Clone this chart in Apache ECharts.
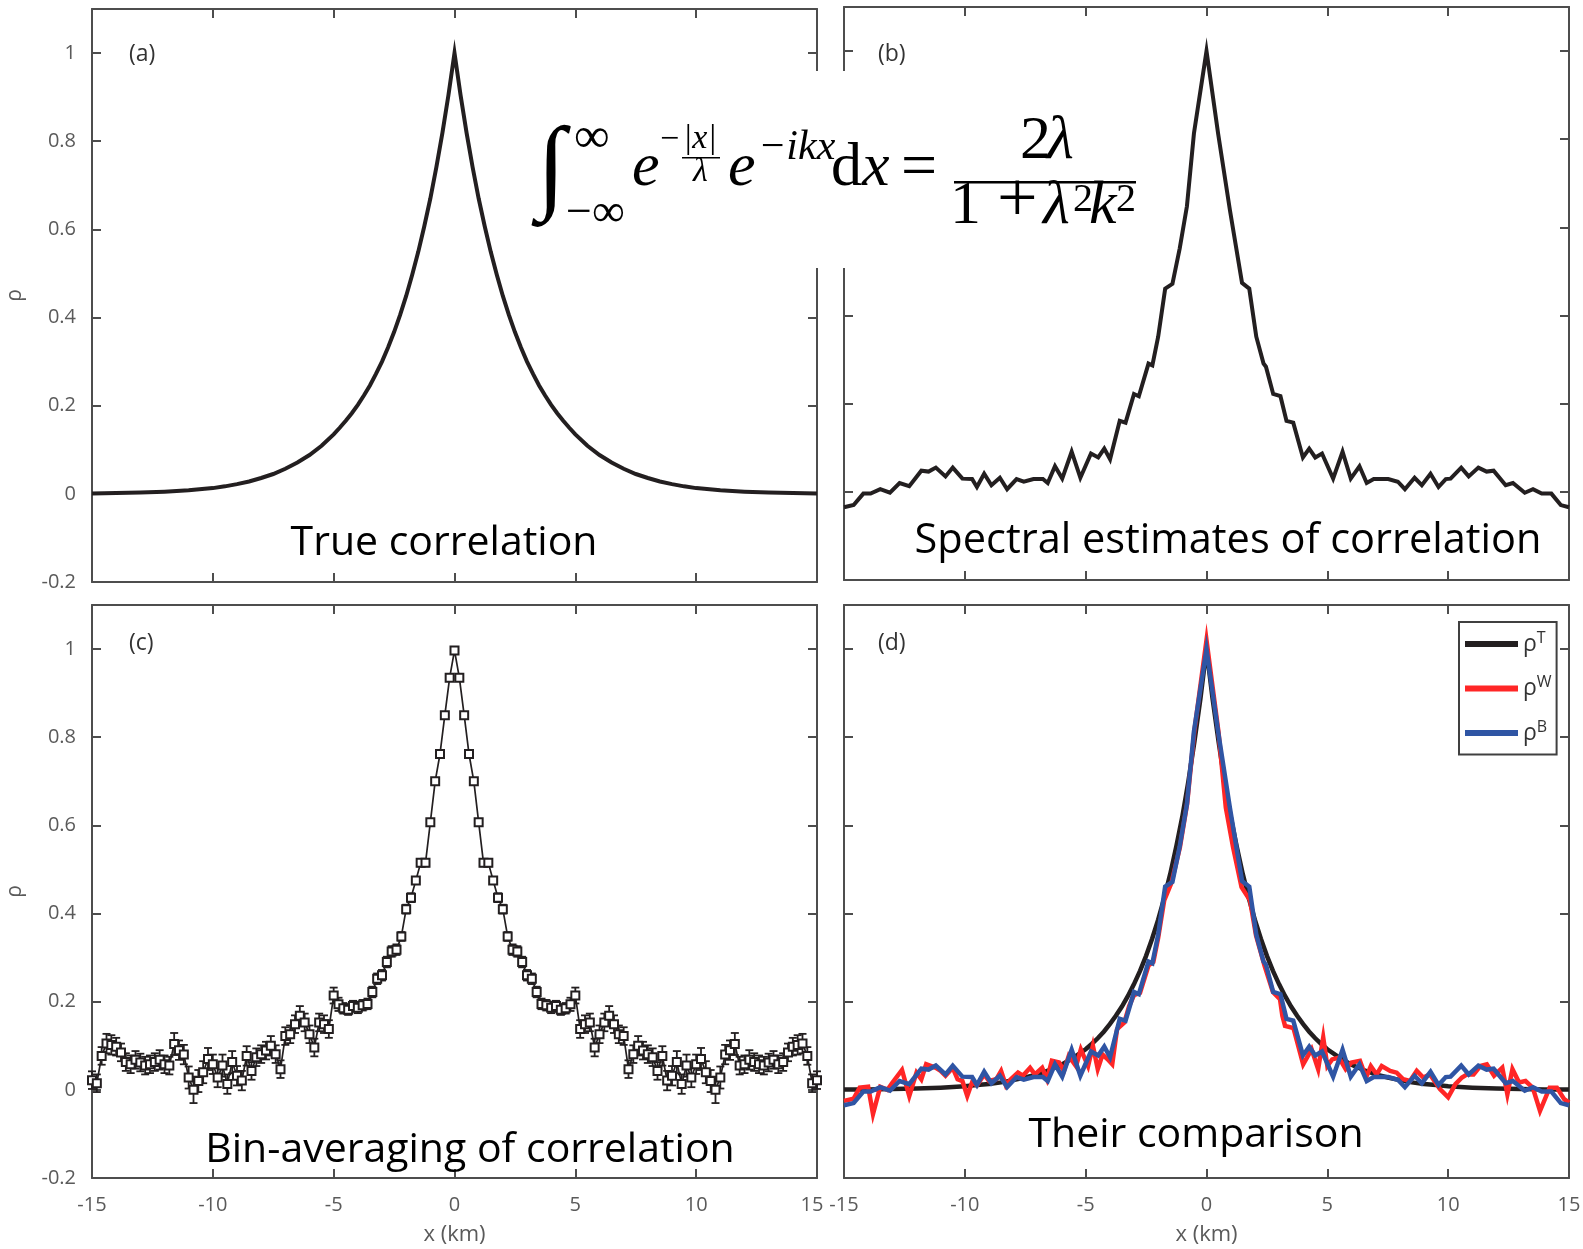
<!DOCTYPE html>
<html><head><meta charset="utf-8">
<script src="https://cdn.jsdelivr.net/npm/echarts@6.0.0/dist/echarts.min.js"></script>
<style>html,body{margin:0;padding:0;background:#fff}#c{width:1583px;height:1249px}</style>
</head><body><div id="c"></div><script>
// ---------- data ----------
// panel (a): true correlation
const trueX = [-15,-14,-13,-12,-11,-10,-9.5,-9,-8.5,-8,-7.5,-7,-6.5,-6,-5.5,-5,-4.75,-4.5,-4.25,-4,-3.75,-3.5,-3.25,-3,-2.75,-2.5,-2.25,-2,-1.75,-1.5,-1.25,-1,-0.75,-0.5,-0.25,0,
  0.25,0.5,0.75,1,1.25,1.5,1.75,2,2.25,2.5,2.75,3,3.25,3.5,3.75,4,4.25,4.5,4.75,5,5.5,6,6.5,7,7.5,8,8.5,9,9.5,10,11,12,13,14,15];
const trueRho = [0.001,0.002,0.003,0.005,0.008,0.013,0.017,0.022,0.028,0.036,0.045,0.057,0.071,0.088,0.109,0.135,0.15,0.166,0.183,0.202,0.223,0.246,0.272,0.3,0.332,0.367,0.406,0.449,0.497,0.549,0.607,0.67,0.741,0.819,0.905,1.0,
  0.905,0.819,0.741,0.67,0.607,0.549,0.497,0.449,0.406,0.367,0.332,0.3,0.272,0.246,0.223,0.202,0.183,0.166,0.15,0.135,0.109,0.088,0.071,0.057,0.045,0.036,0.028,0.022,0.017,0.013,0.008,0.005,0.003,0.002,0.001];
// panel (d): true correlation curve as drawn there (same x positions as trueX)
const trueRhoD = [0.001,0.001,0.002,0.003,0.005,0.008,0.011,0.013,0.017,0.022,0.028,0.035,0.045,0.057,0.073,0.092,0.104,0.117,0.132,0.149,0.168,0.189,0.213,0.24,0.27,0.304,0.343,0.386,0.435,0.49,0.552,0.62,0.70,0.79,0.888,1.0,
  0.888,0.79,0.70,0.62,0.552,0.49,0.435,0.386,0.343,0.304,0.27,0.24,0.213,0.189,0.168,0.149,0.132,0.117,0.104,0.092,0.073,0.057,0.045,0.035,0.028,0.022,0.017,0.013,0.011,0.008,0.005,0.003,0.002,0.001,0.001];

// panel (b) and blue curve of (d): spectral estimate
const specX = [-15,-14.6,-14.2,-13.9,-13.5,-13.1,-12.7,-12.3,-11.8,-11.5,-11.2,-10.8,-10.5,-10.1,-9.7,-9.5,-9.2,-8.9,-8.55,-8.25,-7.86,-7.56,-7.16,-6.77,-6.57,-6.27,-5.97,-5.58,-5.22,-4.78,-4.48,-4.23,-3.99,-3.59,-3.35,-3.0,-2.8,-2.4,-2.24,-2.0,-1.71,-1.41,-1.11,-0.81,-0.52,0,0.48,0.97,1.47,1.77,2.06,2.36,2.46,2.76,3.06,3.31,3.59,3.99,4.25,4.5,4.78,5.24,5.63,5.97,6.33,6.63,6.92,7.52,7.92,8.21,8.61,8.91,9.27,9.6,9.9,10.1,10.54,10.85,11.25,11.59,11.88,12.38,12.68,13.17,13.51,13.87,14.27,14.66,15];
const specRho = [-0.035,-0.03,-0.004,-0.004,0.006,-0.002,0.02,0.013,0.048,0.046,0.055,0.035,0.055,0.03,0.029,0.011,0.041,0.015,0.032,0.006,0.029,0.023,0.029,0.029,0.02,0.058,0.03,0.091,0.032,0.087,0.078,0.098,0.074,0.161,0.157,0.222,0.217,0.291,0.287,0.352,0.461,0.472,0.552,0.648,0.813,1.0,0.813,0.639,0.474,0.461,0.352,0.291,0.284,0.222,0.217,0.161,0.157,0.078,0.098,0.078,0.087,0.03,0.091,0.03,0.058,0.02,0.029,0.029,0.023,0.006,0.032,0.015,0.041,0.011,0.029,0.03,0.055,0.035,0.055,0.046,0.048,0.015,0.02,-0.002,0.006,-0.004,-0.004,-0.03,-0.035];

// panel (c): bin-averaged estimate, bin centres every 0.2 km from -15 to 15
const binRho = [0.022,0.015,0.077,0.105,0.102,0.098,0.085,0.063,0.058,0.068,
 0.062,0.055,0.058,0.063,0.068,0.058,0.055,0.104,0.09,0.08,
 0.028,0.0,0.02,0.04,0.07,0.058,0.028,0.055,0.013,0.063,
 0.032,0.021,0.077,0.043,0.074,0.081,0.089,0.1,0.081,0.047,
 0.122,0.126,0.149,0.168,0.153,0.126,0.096,0.153,0.149,0.138,
 0.214,0.194,0.185,0.182,0.19,0.186,0.192,0.195,0.222,0.252,
 0.26,0.29,0.314,0.318,0.348,0.41,0.436,0.475,0.515,0.515,
 0.607,0.70,0.762,0.85,0.935,
 0.997,
 0.935,0.85,0.762,0.70,0.607,
 0.515,0.515,0.475,0.436,0.41,0.348,0.318,0.314,0.29,0.26,
 0.252,0.222,0.195,0.192,0.186,0.19,0.182,0.185,0.194,0.214,
 0.138,0.149,0.153,0.096,0.126,0.153,0.168,0.149,0.126,0.122,
 0.047,0.081,0.1,0.089,0.081,0.074,0.043,0.077,0.021,0.032,
 0.063,0.013,0.055,0.028,0.058,0.07,0.04,0.02,0.0,0.028,
 0.08,0.09,0.104,0.055,0.058,0.068,0.063,0.058,0.055,0.062,
 0.068,0.058,0.063,0.085,0.098,0.102,0.105,0.077,0.015,0.022];
const binErr = [0.02,0.02,0.02,0.022,0.022,0.02,0.02,0.02,0.02,0.02,
 0.02,0.02,0.02,0.02,0.022,0.02,0.02,0.025,0.022,0.022,
 0.025,0.03,0.025,0.025,0.025,0.022,0.022,0.025,0.022,0.025,
 0.022,0.022,0.022,0.02,0.02,0.02,0.02,0.022,0.02,0.02,
 0.02,0.02,0.02,0.022,0.02,0.02,0.02,0.02,0.02,0.02,
 0.018,0.015,0.012,0.012,0.012,0.012,0.012,0.012,0.012,0.012,
 0.012,0.012,0.012,0.012,0.01,0.01,0.01,0.008,0.008,0.008,
 0.006,0.006,0.006,0.006,0.006,
 0.005,
 0.006,0.006,0.006,0.006,0.006,
 0.008,0.008,0.008,0.01,0.01,0.01,0.012,0.012,0.012,0.012,
 0.012,0.012,0.012,0.012,0.012,0.012,0.012,0.012,0.015,0.018,
 0.02,0.02,0.02,0.02,0.02,0.02,0.022,0.02,0.02,0.02,
 0.02,0.02,0.022,0.02,0.02,0.02,0.02,0.022,0.022,0.022,
 0.025,0.022,0.025,0.022,0.022,0.025,0.025,0.025,0.03,0.025,
 0.022,0.022,0.025,0.02,0.02,0.022,0.02,0.02,0.02,0.02,
 0.02,0.02,0.02,0.02,0.02,0.022,0.022,0.02,0.02,0.02];
const binX = Array.from({length: binRho.length}, (_, i) => Math.round((-15 + 0.2 * i) * 10) / 10);

// weighted estimate (red, panel d): [x, rho]
const rhoW = [[-15.0,-0.025],[-14.6,-0.02],[-14.35,0.005],[-14.0,0.007],[-13.8,-0.055],[-13.5,0.007],[-13.2,0.0],[-13.0,0.016],[-12.6,0.045],[-12.3,-0.014],[-12.0,0.039],[-11.8,0.024],[-11.6,0.058],[-11.2,0.05],[-11.0,0.043],[-10.8,0.032],[-10.5,0.05],[-10.3,0.024],[-10.1,0.02],[-9.9,-0.014],[-9.7,0.017],[-9.5,0.01],[-9.2,0.035],[-9.0,0.02],[-8.7,0.024],[-8.5,0.043],[-8.3,0.01],[-8.1,0.024],[-7.8,0.039],[-7.6,0.032],[-7.3,0.05],[-7.1,0.035],[-6.8,0.05],[-6.6,0.024],[-6.4,0.066],[-6.1,0.062],[-5.9,0.043],[-5.7,0.077],[-5.4,0.054],[-5.2,0.092],[-4.9,0.054],[-4.7,0.1],[-4.5,0.047],[-4.3,0.08],[-4.1,0.07],[-3.9,0.058],[-3.7,0.138],[-3.4,0.153],[-3.2,0.19],[-3.0,0.215],[-2.75,0.22],[-2.4,0.282],[-2.2,0.29],[-2.0,0.345],[-1.75,0.43],[-1.45,0.47],[-1.1,0.55],[-0.8,0.65],[-0.5,0.815],[0,1.02],[0.5,0.81],[0.8,0.64],[1.1,0.55],[1.45,0.46],[1.8,0.43],[2.05,0.35],[2.4,0.282],[2.75,0.222],[3.04,0.206],[3.14,0.168],[3.25,0.145],[3.6,0.14],[4.0,0.058],[4.35,0.092],[4.62,0.047],[4.83,0.119],[5.0,0.054],[5.2,0.069],[5.48,0.073],[5.76,0.047],[6.0,0.062],[6.35,0.066],[6.6,0.028],[6.8,0.054],[7.04,0.035],[7.25,0.054],[7.6,0.043],[7.87,0.039],[8.14,0.024],[8.42,0.02],[8.7,0.043],[8.97,0.028],[9.25,0.035],[9.66,0.002],[10.0,-0.017],[10.3,0.013],[10.57,0.028],[10.78,0.035],[11.05,0.035],[11.33,0.054],[11.6,0.058],[11.9,0.032],[12.24,0.05],[12.45,-0.01],[12.66,0.047],[12.93,0.017],[13.2,0.02],[13.5,0.005],[13.8,-0.048],[14.2,0.005],[14.5,0.005],[14.8,-0.021],[15.0,-0.029]];

const panelLetters = ['(a)', '(b)', '(c)', '(d)'];
const panelTitles = ['True correlation', 'Spectral estimates of correlation', 'Bin-averaging of correlation', 'Their comparison'];
const legendNames = ['ρT', 'ρW', 'ρB'];
const legendSup = {'ρT': 'T', 'ρW': 'W', 'ρB': 'B'};

// ---------- styling / layout ----------
const AX = '#4d4d4d', INK = '#231f20', LBL = '#5a5a5a';
const SANS = '"Open Sans", "Noto Sans", sans-serif';
const SERIF = '"Liberation Serif", "DejaVu Serif", serif';
const grids = [
  {left: 92, top: 9, width: 725, height: 573},
  {left: 844, top: 7, width: 725, height: 573},
  {left: 92, top: 605, width: 725, height: 573},
  {left: 844, top: 605, width: 725, height: 573}
].map(g => Object.assign({outerBoundsMode: 'none', containLabel: false}, g));

function common() {
  return {
    axisLine: {show: true, onZero: false, lineStyle: {color: AX, width: 2}},
    axisTick: {show: true, inside: true, length: 9, lineStyle: {color: AX, width: 2}},
    splitLine: {show: false}, minorTick: {show: false}
  };
}
const labelBase = {fontSize: 20, color: LBL, fontFamily: SANS};
const xAxes = [], yAxes = [];
for (let g = 0; g < 4; g++) {
  const bottomRow = g >= 2, leftCol = g % 2 === 0;
  xAxes.push(Object.assign(common(), {type: 'value', gridIndex: g, position: 'bottom', min: -15, max: 15, interval: 5,
    axisLabel: Object.assign({show: bottomRow, margin: 17,
      formatter: v => (g === 2 && v === 15) ? '{e|15}' : String(v),
      rich: {e: Object.assign({padding: [0, 10, 0, 0]}, labelBase)}}, labelBase),
    name: bottomRow ? 'x (km)' : '', nameLocation: 'middle', nameGap: 46,
    nameTextStyle: {fontSize: 22, color: LBL, fontFamily: SANS}}));
  xAxes.push(Object.assign(common(), {type: 'value', gridIndex: g, position: 'top', min: -15, max: 15, interval: 5, axisLabel: {show: false}}));
  yAxes.push(Object.assign(common(), {type: 'value', gridIndex: g, position: 'left', min: -0.2, max: 1.1, interval: 0.2,
    axisLabel: {show: leftCol, margin: 16, fontSize: 20, color: LBL, fontFamily: SANS, showMaxLabel: false},
    name: leftCol ? 'ρ' : '', nameLocation: 'middle', nameGap: 66, nameRotate: 90,
    nameTextStyle: {fontSize: 21, color: LBL, fontFamily: SANS}}));
  yAxes.push(Object.assign(common(), {type: 'value', gridIndex: g, position: 'right', min: -0.2, max: 1.1, interval: 0.2, axisLabel: {show: false}}));
}

const zip = (xs, ys) => xs.map((x, i) => [x, ys[i]]);
const lineBase = {type: 'line', showSymbol: false, symbol: 'none', silent: true, animation: false, clip: true};

const series = [
  Object.assign({}, lineBase, {xAxisIndex: 0, yAxisIndex: 0, data: zip(trueX, trueRho),
    lineStyle: {color: INK, width: 4, join: 'miter', miterLimit: 30}}),
  Object.assign({}, lineBase, {xAxisIndex: 2, yAxisIndex: 2, data: zip(specX, specRho),
    lineStyle: {color: INK, width: 4, join: 'miter', miterLimit: 30}}),
  {type: 'custom', xAxisIndex: 4, yAxisIndex: 4, silent: true, animation: false, z: 2,
    data: binX.map((x, i) => [x, binRho[i], binErr[i]]), encode: {x: 0, y: 1},
    renderItem: (params, api) => {
      const x = api.value(0), y = api.value(1), e = api.value(2);
      const t = api.coord([x, y + e]), b = api.coord([x, y - e]);
      const hw = 4, st = {stroke: INK, lineWidth: 1.8};
      return {type: 'group', children: [
        {type: 'line', shape: {x1: t[0], y1: t[1], x2: b[0], y2: b[1]}, style: st},
        {type: 'line', shape: {x1: t[0] - hw, y1: t[1], x2: t[0] + hw, y2: t[1]}, style: st},
        {type: 'line', shape: {x1: b[0] - hw, y1: b[1], x2: b[0] + hw, y2: b[1]}, style: st}
      ]};
    }},
  {type: 'line', xAxisIndex: 4, yAxisIndex: 4, silent: true, animation: false, z: 3,
    data: zip(binX, binRho), symbol: 'emptyRect', symbolSize: 8, showSymbol: true,
    itemStyle: {color: INK, borderColor: INK, borderWidth: 2},
    lineStyle: {color: INK, width: 1.7}},
  Object.assign({}, lineBase, {name: 'ρT', xAxisIndex: 6, yAxisIndex: 6, data: zip(trueX, trueRhoD), color: INK,
    itemStyle: {color: INK}, lineStyle: {color: INK, width: 4.5, join: 'miter', miterLimit: 30}, z: 2}),
  Object.assign({}, lineBase, {name: 'ρW', xAxisIndex: 6, yAxisIndex: 6, data: rhoW, color: '#ff2626',
    itemStyle: {color: '#ff2626'}, lineStyle: {color: '#ff2626', width: 4.5, join: 'miter', miterLimit: 30}, z: 3}),
  Object.assign({}, lineBase, {name: 'ρB', xAxisIndex: 6, yAxisIndex: 6, data: zip(specX, specRho), color: '#2f55a4',
    itemStyle: {color: '#2f55a4'}, lineStyle: {color: '#2f55a4', width: 4.5, join: 'miter', miterLimit: 30}, z: 4})
];

// ---------- texts ----------
function T(text, x, y, fs, o) {
  o = o || {};
  return {type: 'text', x: x, y: y, z: 101, silent: true, style: {
    text: text, fill: o.color || '#000', fontSize: fs, fontFamily: o.family || SERIF,
    fontStyle: o.italic ? 'italic' : 'normal', fontWeight: 'normal',
    textAlign: o.align || 'left', align: o.align || 'left',
    textVerticalAlign: 'middle', verticalAlign: 'middle'}};
}
const graphics = [
  {type: 'rect', z: 100, silent: true, shape: {x: 524, y: 71, width: 620, height: 197}, style: {fill: '#fff'}},
  // equation
  T('∫', 537, 172, 104, {italic: true}),
  T('∞', 574, 139, 50),
  T('−∞', 566, 214, 46),
  T('e', 632, 169, 62, {italic: true}),
  T('−', 660, 140, 34),
  T('|x|', 683, 139, 34, {italic: true}),
  {type: 'rect', z: 101, silent: true, shape: {x: 682, y: 157, width: 38, height: 1.6}, style: {fill: '#000'}},
  T('λ', 693, 172, 34, {italic: true}),
  T('e', 728, 169, 62, {italic: true}),
  T('−ikx', 758, 148, 42, {italic: true}),
  T('d', 831, 169, 62),
  T('x', 862, 169, 62, {italic: true}),
  T('=', 901, 169, 64),
  T('2', 1020, 142, 62),
  T('λ', 1047, 142, 62, {italic: true}),
  {type: 'rect', z: 101, silent: true, shape: {x: 954, y: 181, width: 182, height: 2.5}, style: {fill: '#000'}},
  T('1', 950, 207, 62),
  T('+', 997, 202, 72),
  T('λ', 1043, 207, 62, {italic: true}),
  T('2', 1073, 200, 40),
  T('k', 1089, 207, 62, {italic: true}),
  T('2', 1116, 200, 40)
];
const letterPos = [[129, 54], [878, 54], [129, 643], [878, 643]];
panelLetters.forEach((s, i) => graphics.push(T(s, letterPos[i][0], letterPos[i][1], 23, {family: SANS, color: '#333'})));
const titlePos = [[444, 543], [1228, 541], [470, 1150], [1196, 1135]];
const titleSize = [41, 41.5, 41, 41];
panelTitles.forEach((s, i) => graphics.push(T(s, titlePos[i][0], titlePos[i][1], titleSize[i], {family: SANS, align: 'center'})));

const chart = echarts.init(document.getElementById('c'), null, {renderer: 'canvas'});
chart.setOption({
  backgroundColor: '#fff', animation: false,
  grid: grids, xAxis: xAxes, yAxis: yAxes, series: series,
  legend: {show: true, data: legendNames, orient: 'vertical', left: 1459, top: 622,
    itemWidth: 53, itemHeight: 6, itemGap: 19, icon: 'rect', selectedMode: false,
    borderColor: '#404040', borderWidth: 2, borderRadius: 0, padding: [8, 5, 10, 6], backgroundColor: '#fff',
    formatter: n => '{r|ρ}{s|' + legendSup[n] + '}',
    textStyle: {rich: {
      r: {fontSize: 23, fontFamily: SANS, color: '#333', lineHeight: 28},
      s: {fontSize: 16, fontFamily: SANS, color: '#333', lineHeight: 16, verticalAlign: 'top'}}}},
  graphic: {elements: graphics}
});
</script></body></html>
